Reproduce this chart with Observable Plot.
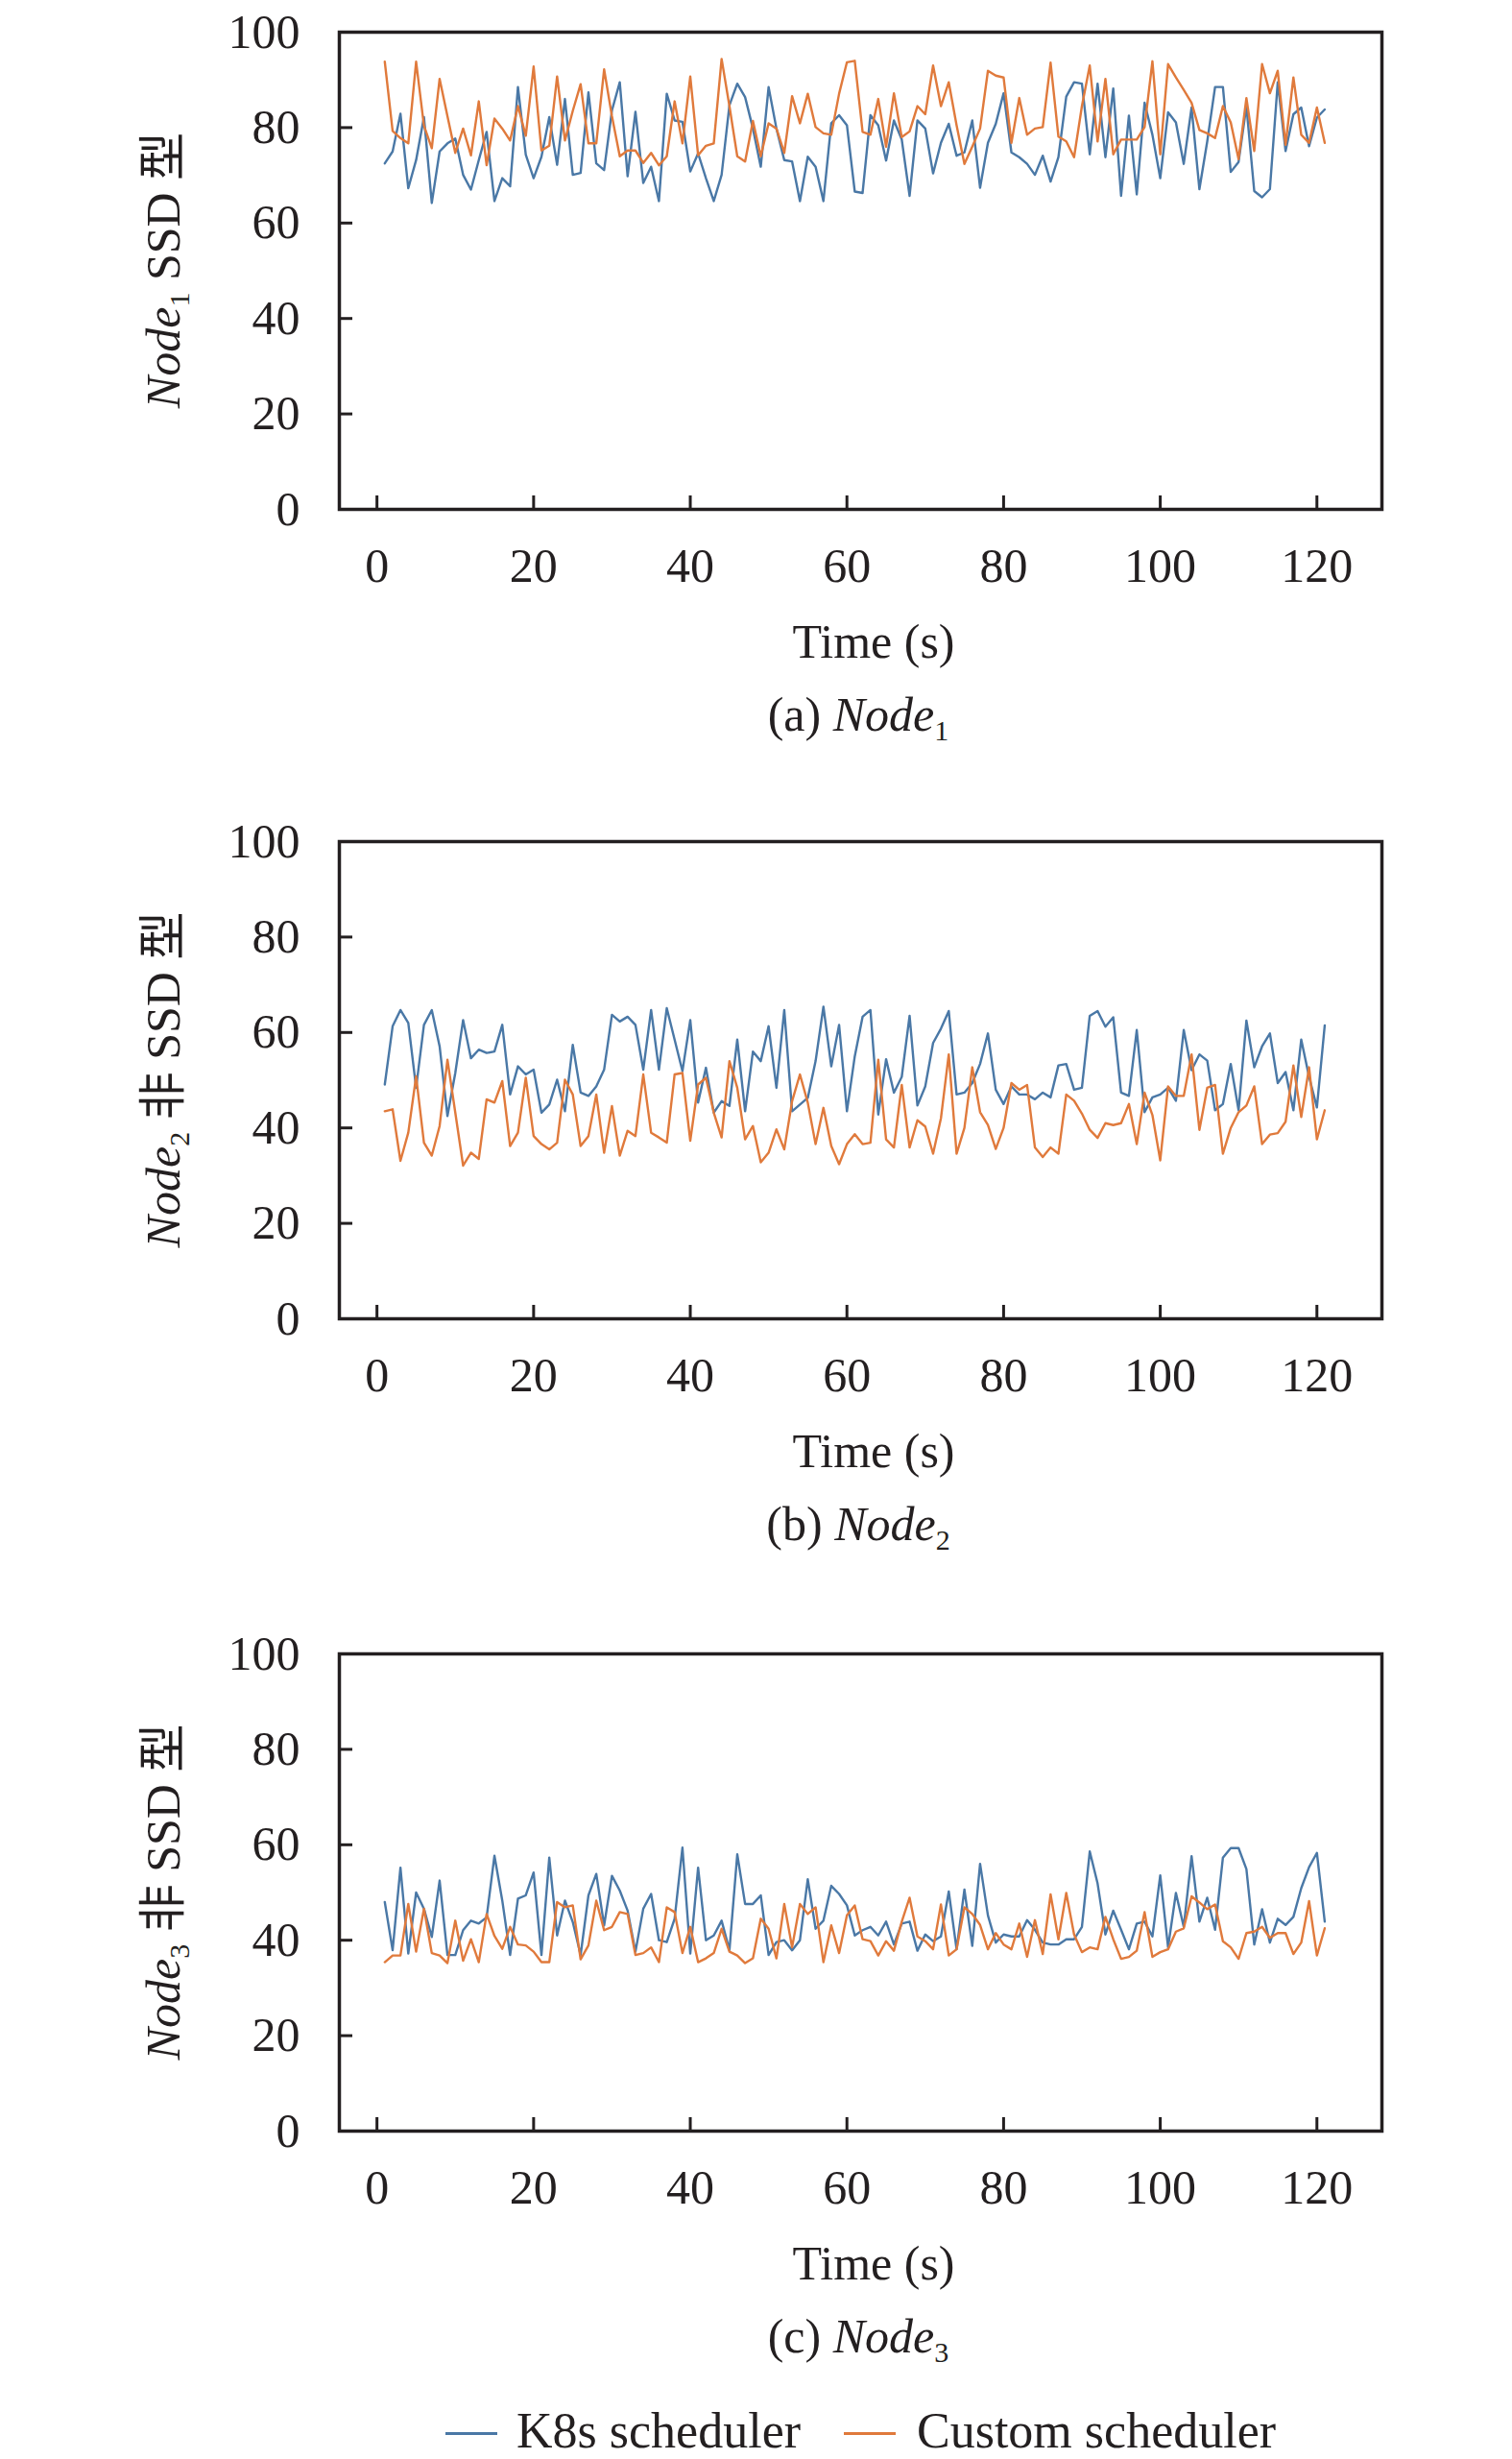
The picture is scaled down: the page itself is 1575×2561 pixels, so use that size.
<!DOCTYPE html>
<html>
<head>
<meta charset="utf-8">
<script src="https://cdn.jsdelivr.net/npm/d3@7"></script>
<script src="https://cdn.jsdelivr.net/npm/@observablehq/plot@0.6"></script>
<style>
  body { margin: 0; background: #fff; }
  #wrap { position: relative; width: 1575px; height: 2561px; overflow: hidden;
          font-family: "Liberation Serif", "Times New Roman", "Noto Sans CJK SC", serif; color: #231f20; }
  .panel { position: absolute; left: 0; }
  .legline { position: absolute; height: 3px; }
  .legtext { position: absolute; font-size: 52px; line-height: 50px; height: 50px; white-space: nowrap; }
</style>
</head>
<body>
<div id="wrap"></div>
<script>
// ---------- data ----------
const timeSec = d3.range(1, 122); // sample index, 1 s apart

const seriesNames = ["K8s scheduler", "Custom scheduler"];
const xTicks = [0, 20, 40, 60, 80, 100, 120];
const yTicks = [0, 20, 40, 60, 80, 100];
const captionTags = ["(a) ", "(b) ", "(c) "];
const nodeSubs = ["1", "2", "3"];
const yTexts = [" SSD 型", " 非 SSD 型", " 非 SSD 型"];

const node1K8s = [72.5, 75.0, 82.9, 67.3, 73.2, 82.2, 64.2, 75.0, 76.7, 77.7, 70.1, 67.0, 73.2, 79.1, 64.6, 69.4, 67.7, 88.5, 74.3, 69.4, 73.9, 82.2, 72.2, 86.0, 70.1, 70.5, 87.4, 72.5, 71.1, 83.6, 89.5, 69.8, 83.3, 68.4, 71.8, 64.6, 87.1, 81.5, 81.2, 70.8, 74.6, 69.4, 64.6, 70.1, 84.7, 89.2, 86.4, 79.8, 71.8, 88.5, 79.8, 73.2, 72.9, 64.6, 73.9, 71.8, 64.6, 80.9, 82.6, 80.5, 66.6, 66.3, 82.6, 80.5,
  73.1, 81.5, 77.5, 65.7, 81.5, 79.8, 70.4, 76.8, 80.8, 74.1, 74.8, 81.5, 67.4, 76.8, 80.8, 87.2, 74.8, 73.8, 72.4, 70.1, 74.1, 68.7, 73.8, 86.5, 89.5, 89.2, 74.4, 89.2, 73.8, 88.2, 65.7, 82.5, 66.0, 85.2, 78.5, 69.4, 83.2, 81.1, 72.4, 84.2, 67.1, 77.1, 88.5, 88.5, 70.7, 72.8, 84.5, 66.7, 65.4, 67.1, 89.5, 75.1, 82.8, 84.2, 76.1, 82.1, 83.8];
const node1Custom = [93.8, 79.3, 77.8, 76.7, 93.8, 80.4, 75.7, 90.2, 82.4, 74.7, 79.8, 74.2, 85.5, 72.1, 81.9, 79.8, 77.3, 84.5, 78.3, 92.8, 75.2, 76.2, 90.7, 77.3, 83.5, 89.1, 76.7, 76.7, 92.2, 82.4, 74.0, 75.2, 75.2, 72.6, 74.7, 72.1, 74.0, 85.5, 76.7, 90.7, 74.2, 76.2, 76.7, 94.4, 84.5, 74.0, 72.9, 81.4, 74.0, 80.9, 79.8, 74.7, 86.6, 80.9, 87.1, 80.1, 78.8, 78.5, 87.1, 93.7, 94.0, 79.1, 78.5, 86.0,
  76.0, 87.2, 78.0, 79.2, 84.5, 82.8, 93.0, 84.5, 89.5, 80.5, 72.4, 76.0, 79.8, 91.9, 90.9, 90.5, 76.8, 86.2, 78.5, 79.8, 80.1, 93.6, 78.1, 77.1, 73.8, 84.5, 93.0, 77.1, 90.2, 74.4, 77.5, 77.5, 77.5, 80.1, 93.9, 74.4, 93.3, 90.5, 87.9, 85.2, 79.5, 78.8, 77.8, 84.5, 81.1, 73.4, 86.2, 75.1, 93.3, 87.2, 91.9, 76.4, 90.5, 78.5, 76.8, 84.2, 76.8];

const node2K8s = [49.1, 61.3, 64.7, 62.0, 48.4, 61.6, 64.7, 57.1, 42.5, 51.5, 62.6, 54.6, 56.4, 55.7, 56.0, 61.6, 47.0, 52.9, 51.2, 52.2, 43.2, 44.9, 50.1, 43.5, 57.4, 47.4, 46.7, 48.7, 52.2, 63.7, 62.3, 63.3, 61.6, 52.2, 64.7, 52.2, 65.1, 58.5, 51.9, 62.6, 45.3, 52.6, 43.2, 45.6, 44.6, 58.5, 43.5, 56.0, 54.0, 61.3, 48.4, 64.7, 43.5, 44.9, 46.3, 54.0, 65.4, 52.9, 61.6, 43.5, 55.0, 63.3, 64.7, 42.8,
  54.4, 47.4, 50.7, 63.5, 44.7, 48.7, 57.8, 60.8, 64.5, 47.0, 47.4, 49.4, 53.4, 59.8, 48.0, 45.0, 48.7, 47.0, 47.0, 46.0, 47.4, 46.4, 53.1, 53.4, 48.0, 48.4, 63.5, 64.5, 61.2, 63.2, 47.4, 46.7, 60.5, 43.3, 46.4, 47.0, 48.4, 45.7, 60.5, 52.1, 55.4, 54.1, 43.7, 45.0, 53.4, 43.7, 62.5, 52.7, 57.1, 59.8, 49.4, 51.7, 43.7, 58.5, 50.7, 44.3, 61.5];
const node2Custom = [43.5, 43.9, 33.1, 39.0, 50.8, 36.9, 34.2, 40.4, 54.3, 43.2, 32.1, 34.8, 33.5, 46.0, 45.3, 49.8, 36.2, 39.0, 50.5, 38.3, 36.6, 35.5, 36.9, 50.1, 47.0, 36.2, 38.3, 47.0, 34.8, 44.6, 34.2, 39.4, 38.3, 51.2, 39.0, 38.0, 36.9, 51.2, 51.5, 37.3, 49.1, 50.5, 43.2, 38.0, 54.0, 48.4, 37.6, 40.4, 32.8, 34.8, 39.7, 35.5, 45.6, 51.2, 45.3, 36.6, 44.2, 36.2, 32.4, 36.6, 38.7, 36.6, 36.9, 54.3,
  37.6, 35.9, 49.0, 35.9, 41.6, 40.3, 34.6, 42.0, 55.4, 34.6, 40.0, 52.7, 43.3, 40.6, 35.6, 40.0, 49.4, 48.0, 49.0, 35.9, 33.9, 35.9, 34.6, 47.0, 45.7, 43.0, 39.6, 37.9, 41.0, 40.6, 41.0, 45.0, 36.6, 47.4, 42.7, 33.2, 48.7, 46.7, 46.7, 55.4, 39.6, 48.4, 49.0, 34.6, 40.0, 43.3, 44.7, 48.7, 36.6, 38.6, 38.9, 41.3, 53.1, 42.3, 52.7, 37.6, 43.7];

const node3K8s = [48.0, 37.9, 55.2, 37.2, 50.0, 46.6, 40.7, 52.5, 36.9, 36.9, 42.1, 44.1, 43.5, 44.8, 57.7, 48.3, 36.9, 48.7, 49.4, 54.2, 36.9, 57.3, 41.0, 48.3, 43.8, 36.9, 49.4, 53.9, 43.1, 53.5, 50.4, 46.2, 37.6, 46.6, 49.7, 40.0, 39.6, 44.5, 59.4, 37.2, 55.2, 40.0, 41.0, 44.1, 37.9, 58.0, 47.6, 47.6, 49.4, 36.9, 39.6, 40.0, 37.9, 40.0, 52.8, 42.4, 44.1, 51.4, 49.7, 47.3, 41.0, 42.1, 42.8, 41.0,
  43.9, 39.1, 43.5, 43.9, 37.8, 41.2, 39.8, 40.8, 50.2, 38.1, 50.6, 38.8, 56.0, 45.2, 39.5, 41.2, 40.8, 40.8, 44.2, 42.2, 39.5, 39.1, 39.1, 40.2, 40.2, 42.8, 58.6, 51.9, 41.2, 46.2, 42.2, 38.1, 43.5, 43.9, 40.8, 53.6, 38.5, 49.9, 42.8, 57.6, 43.9, 48.9, 42.2, 57.3, 59.3, 59.3, 54.9, 39.1, 46.5, 39.5, 44.5, 43.2, 44.9, 50.9, 55.3, 58.3, 43.9];
const node3Custom = [35.4, 36.8, 36.8, 47.6, 37.6, 46.6, 37.3, 36.8, 35.2, 44.1, 35.7, 40.2, 35.4, 45.5, 40.9, 38.2, 42.8, 39.1, 38.9, 37.6, 35.4, 35.4, 48.0, 46.9, 47.3, 36.0, 38.9, 48.3, 42.1, 42.8, 45.9, 45.5, 36.9, 37.3, 38.5, 35.4, 46.9, 45.9, 37.3, 42.8, 35.4, 36.2, 37.3, 42.4, 37.6, 36.8, 35.2, 36.2, 44.5, 42.4, 36.2, 47.6, 38.5, 47.6, 45.5, 46.9, 35.4, 43.1, 37.3, 45.2, 47.3, 40.2, 39.8, 36.8,
  39.8, 37.8, 43.9, 48.9, 40.8, 39.8, 38.1, 47.5, 36.8, 38.1, 46.9, 45.5, 43.2, 38.1, 41.5, 39.1, 38.1, 43.5, 36.5, 44.2, 37.1, 49.6, 40.2, 49.9, 41.2, 37.5, 38.5, 38.1, 44.9, 40.2, 36.1, 36.5, 37.8, 45.9, 36.5, 37.5, 38.1, 41.8, 42.5, 49.2, 47.9, 46.5, 47.5, 39.8, 38.5, 36.1, 41.5, 41.8, 42.8, 40.5, 41.5, 41.5, 37.1, 39.5, 48.2, 36.8, 42.5];

const k8sSeries = [node1K8s, node2K8s, node3K8s];
const customSeries = [node1Custom, node2Custom, node3Custom];

// ---------- styling ----------
const ink = "#231f20";
const blue = "#4a78a6";
const orange = "#e07a3c";
const serif = "'Liberation Serif', 'Times New Roman', 'Noto Sans CJK SC', serif";
const svgTops = [0, 843, 1689];
const W = 1575, mTop = 33, frameH = 497, mBottom = 250, mLeft = 353, mRight = 136;

const wrap = document.getElementById("wrap");

for (let i = 0; i < 3; i++) {
  const rows = [];
  k8sSeries[i].forEach((v, j) => rows.push({t: timeSec[j], v, s: seriesNames[0]}));
  customSeries[i].forEach((v, j) => rows.push({t: timeSec[j], v, s: seriesNames[1]}));

  const svg = Plot.plot({
    width: W,
    height: mTop + frameH + mBottom,
    marginTop: mTop, marginBottom: mBottom, marginLeft: mLeft, marginRight: mRight,
    style: {fontFamily: serif, fontSize: "50px", color: ink, background: "white", overflow: "visible"},
    x: {domain: [-4.8, 128.3], label: null},
    y: {domain: [0, 100], label: null},
    color: {domain: seriesNames, range: [blue, orange]},
    marks: [
      Plot.lineY(rows, {x: "t", y: "v", stroke: "s", strokeWidth: 2.4, strokeLinejoin: "round"}),
      Plot.frame({stroke: ink, strokeWidth: 3.5}),
      Plot.axisX({ticks: xTicks, tickSize: -14, tickPadding: 54, fontSize: 50, strokeWidth: 3, label: null, tickFormat: d => String(d)}),
      Plot.axisY({ticks: yTicks, tickSize: -14, tickPadding: 55, fontSize: 50, strokeWidth: 3, label: null, tickFormat: d => String(d)})
    ]
  });
  svg.classList.add("panel");
  svg.style.top = svgTops[i] + "px";
  wrap.appendChild(svg);

  const s = d3.select(svg);
  // y-axis title (rotated)
  const yl = s.append("text")
    .attr("transform", `translate(169,${mTop + frameH / 2}) rotate(-90)`)
    .attr("text-anchor", "middle").attr("dy", "0.35em")
    .attr("fill", ink).style("font-size", "50px").style("font-family", serif);
  yl.append("tspan").style("font-style", "italic").text("Node");
  yl.append("tspan").style("font-size", "30px").attr("dy", 10).text(nodeSubs[i]);
  yl.append("tspan").attr("dy", -10).text(yTexts[i]);

  // x-axis title
  s.append("text").attr("x", 910).attr("y", mTop + frameH + 155)
    .attr("text-anchor", "middle").attr("fill", ink)
    .style("font-size", "50px").style("font-family", serif).text("Time (s)");

  // panel caption
  const cap = s.append("text").attr("x", 894).attr("y", mTop + frameH + 231)
    .attr("text-anchor", "middle").attr("fill", ink)
    .style("font-size", "50px").style("font-family", serif);
  cap.append("tspan").text(captionTags[i]);
  cap.append("tspan").style("font-style", "italic").text("Node");
  cap.append("tspan").style("font-size", "30px").attr("dy", 10).text(nodeSubs[i]);
}

// ---------- legend ----------
const legItems = [
  {name: seriesNames[0], color: blue, lineLeft: 464, textLeft: 538},
  {name: seriesNames[1], color: orange, lineLeft: 879, textLeft: 955}
];
legItems.forEach(it => {
  const ln = document.createElement("div");
  ln.className = "legline";
  ln.style.left = it.lineLeft + "px";
  ln.style.top = "2533px";
  ln.style.width = "54px";
  ln.style.background = it.color;
  wrap.appendChild(ln);
  const tx = document.createElement("div");
  tx.className = "legtext";
  tx.style.left = it.textLeft + "px";
  tx.style.top = "2507px";
  tx.textContent = it.name;
  wrap.appendChild(tx);
});
</script>
</body>
</html>
